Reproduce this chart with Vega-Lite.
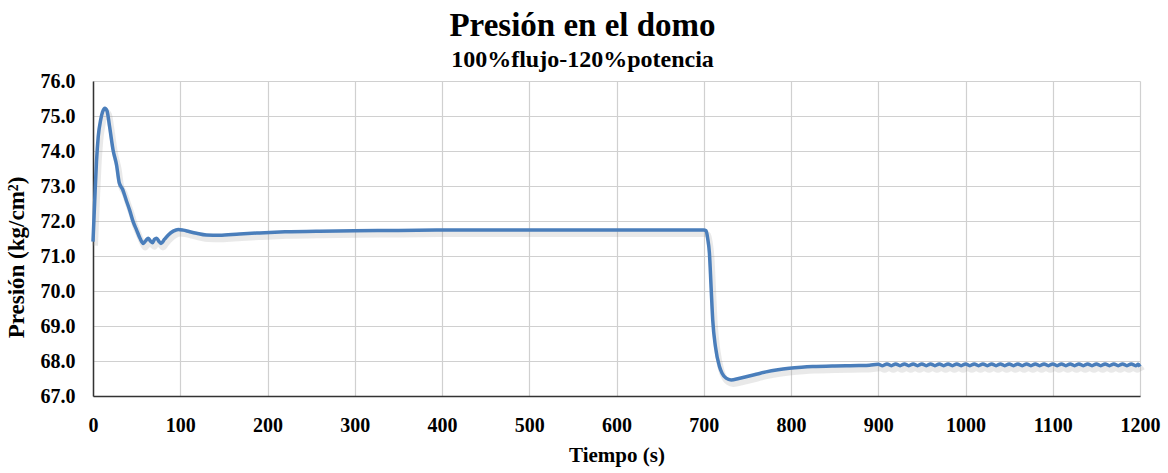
{
  "$schema": "https://vega.github.io/schema/vega-lite/v6.json",
  "width": 1047,
  "height": 315,
  "autosize": {"type": "none"},
  "padding": {"left": 93, "top": 81, "right": 28, "bottom": 77},
  "background": "white",
  "title": {
    "text": "Presión en el domo",
    "subtitle": "100%flujo-120%potencia",
    "font": "Liberation Serif",
    "fontSize": 33,
    "fontWeight": "bold",
    "color": "#000000",
    "subtitleFont": "Liberation Serif",
    "subtitleFontSize": 24,
    "subtitleFontWeight": "bold",
    "subtitleColor": "#000000",
    "subtitlePadding": 5,
    "anchor": "middle",
    "frame": "group",
    "dx": -34,
    "offset": -1
  },
  "config": {
    "view": {"stroke": null},
    "axis": {
      "labelFont": "Liberation Serif",
      "labelFontSize": 20,
      "labelFontWeight": "bold",
      "labelColor": "#000000",
      "titleFont": "Liberation Serif",
      "titleFontWeight": "bold",
      "titleColor": "#000000",
      "gridColor": "#d0d0d0",
      "gridWidth": 1.2,
      "gridOpacity": 1,
      "domainColor": "#333333",
      "domainWidth": 1.5,
      "ticks": false
    }
  },
  "data": {
    "values": [
      {"t": 0, "p": 71.41},
      {"t": 2, "p": 72.6},
      {"t": 4, "p": 73.7},
      {"t": 6, "p": 74.41},
      {"t": 8.8, "p": 74.89},
      {"t": 11, "p": 75.12},
      {"t": 13.7, "p": 75.22},
      {"t": 16, "p": 75.15},
      {"t": 19, "p": 74.7},
      {"t": 23, "p": 74.03},
      {"t": 27, "p": 73.6},
      {"t": 30, "p": 73.1},
      {"t": 34, "p": 72.9},
      {"t": 38, "p": 72.6},
      {"t": 42, "p": 72.31},
      {"t": 46, "p": 71.98},
      {"t": 50, "p": 71.74},
      {"t": 54, "p": 71.5},
      {"t": 57.6, "p": 71.36},
      {"t": 60.5, "p": 71.44},
      {"t": 63.4, "p": 71.51},
      {"t": 66, "p": 71.42},
      {"t": 68.3, "p": 71.38},
      {"t": 70.5, "p": 71.48},
      {"t": 72.9, "p": 71.51},
      {"t": 75.5, "p": 71.42},
      {"t": 77.9, "p": 71.36},
      {"t": 82, "p": 71.48},
      {"t": 86.3, "p": 71.6},
      {"t": 92, "p": 71.71},
      {"t": 97.7, "p": 71.76},
      {"t": 103.5, "p": 71.74},
      {"t": 110, "p": 71.7},
      {"t": 118.7, "p": 71.65},
      {"t": 130, "p": 71.6},
      {"t": 145, "p": 71.59},
      {"t": 168, "p": 71.63},
      {"t": 191, "p": 71.66},
      {"t": 220, "p": 71.69},
      {"t": 260, "p": 71.71},
      {"t": 300, "p": 71.72},
      {"t": 350, "p": 71.73},
      {"t": 400, "p": 71.74},
      {"t": 450, "p": 71.74},
      {"t": 500, "p": 71.74},
      {"t": 550, "p": 71.74},
      {"t": 600, "p": 71.74},
      {"t": 650, "p": 71.74},
      {"t": 700, "p": 71.74},
      {"t": 702.7, "p": 71.72},
      {"t": 704.5, "p": 71.5},
      {"t": 706.5, "p": 71.08},
      {"t": 708.4, "p": 70.12},
      {"t": 710.3, "p": 69.17},
      {"t": 713.4, "p": 68.41},
      {"t": 718, "p": 67.84},
      {"t": 721, "p": 67.65},
      {"t": 725.6, "p": 67.51},
      {"t": 731.3, "p": 67.46},
      {"t": 740, "p": 67.5},
      {"t": 748.5, "p": 67.55},
      {"t": 760, "p": 67.62},
      {"t": 771.4, "p": 67.69},
      {"t": 785, "p": 67.75},
      {"t": 798, "p": 67.79},
      {"t": 812, "p": 67.82},
      {"t": 824.8, "p": 67.84},
      {"t": 850, "p": 67.86},
      {"t": 878, "p": 67.87},
      {"t": 890, "p": 67.88},
      {"t": 900, "p": 67.905},
      {"t": 905, "p": 67.865},
      {"t": 910, "p": 67.915},
      {"t": 915, "p": 67.865},
      {"t": 920, "p": 67.915},
      {"t": 925, "p": 67.865},
      {"t": 930, "p": 67.915},
      {"t": 935, "p": 67.865},
      {"t": 940, "p": 67.915},
      {"t": 945, "p": 67.865},
      {"t": 950, "p": 67.915},
      {"t": 955, "p": 67.865},
      {"t": 960, "p": 67.915},
      {"t": 965, "p": 67.865},
      {"t": 970, "p": 67.915},
      {"t": 975, "p": 67.865},
      {"t": 980, "p": 67.915},
      {"t": 985, "p": 67.865},
      {"t": 990, "p": 67.915},
      {"t": 995, "p": 67.865},
      {"t": 1000, "p": 67.915},
      {"t": 1005, "p": 67.865},
      {"t": 1010, "p": 67.915},
      {"t": 1015, "p": 67.865},
      {"t": 1020, "p": 67.915},
      {"t": 1025, "p": 67.865},
      {"t": 1030, "p": 67.915},
      {"t": 1035, "p": 67.865},
      {"t": 1040, "p": 67.915},
      {"t": 1045, "p": 67.865},
      {"t": 1050, "p": 67.915},
      {"t": 1055, "p": 67.865},
      {"t": 1060, "p": 67.915},
      {"t": 1065, "p": 67.865},
      {"t": 1070, "p": 67.915},
      {"t": 1075, "p": 67.865},
      {"t": 1080, "p": 67.915},
      {"t": 1085, "p": 67.865},
      {"t": 1090, "p": 67.915},
      {"t": 1095, "p": 67.865},
      {"t": 1100, "p": 67.915},
      {"t": 1105, "p": 67.865},
      {"t": 1110, "p": 67.915},
      {"t": 1115, "p": 67.865},
      {"t": 1120, "p": 67.915},
      {"t": 1125, "p": 67.865},
      {"t": 1130, "p": 67.915},
      {"t": 1135, "p": 67.865},
      {"t": 1140, "p": 67.915},
      {"t": 1145, "p": 67.865},
      {"t": 1150, "p": 67.915},
      {"t": 1155, "p": 67.865},
      {"t": 1160, "p": 67.915},
      {"t": 1165, "p": 67.865},
      {"t": 1170, "p": 67.915},
      {"t": 1175, "p": 67.865},
      {"t": 1180, "p": 67.915},
      {"t": 1185, "p": 67.865},
      {"t": 1190, "p": 67.915},
      {"t": 1195, "p": 67.865},
      {"t": 1198, "p": 67.905},
      {"t": 1200, "p": 67.84}
    ]
  },
  "encoding": {
    "x": {
      "field": "t",
      "type": "quantitative",
      "scale": {"domain": [0, 1200], "nice": false},
      "axis": {
        "title": "Tiempo (s)",
        "titleFontSize": 21,
        "values": [0, 100, 200, 300, 400, 500, 600, 700, 800, 900, 1000, 1100, 1200],
        "labelPadding": 19,
        "titlePadding": 9,
        "labelFlush": false,
        "format": "d"
      }
    },
    "y": {
      "field": "p",
      "type": "quantitative",
      "scale": {"domain": [67, 76], "nice": false, "zero": false},
      "axis": {
        "title": "Presión (kg/cm²)",
        "titleFontSize": 23,
        "values": [67, 68, 69, 70, 71, 72, 73, 74, 75, 76],
        "format": ".1f",
        "labelPadding": 18,
        "titleX": -65,
        "titleY": 176,
        "labelFlush": false
      }
    }
  },
  "layer": [
    {
      "mark": {"type": "line", "color": "#9a9a9a", "strokeWidth": 6, "opacity": 0.22, "xOffset": 2, "yOffset": 4, "interpolate": "monotone"}
    },
    {
      "mark": {"type": "line", "color": "#4a7ebb", "strokeWidth": 3.5, "interpolate": "monotone"}
    }
  ]
}
